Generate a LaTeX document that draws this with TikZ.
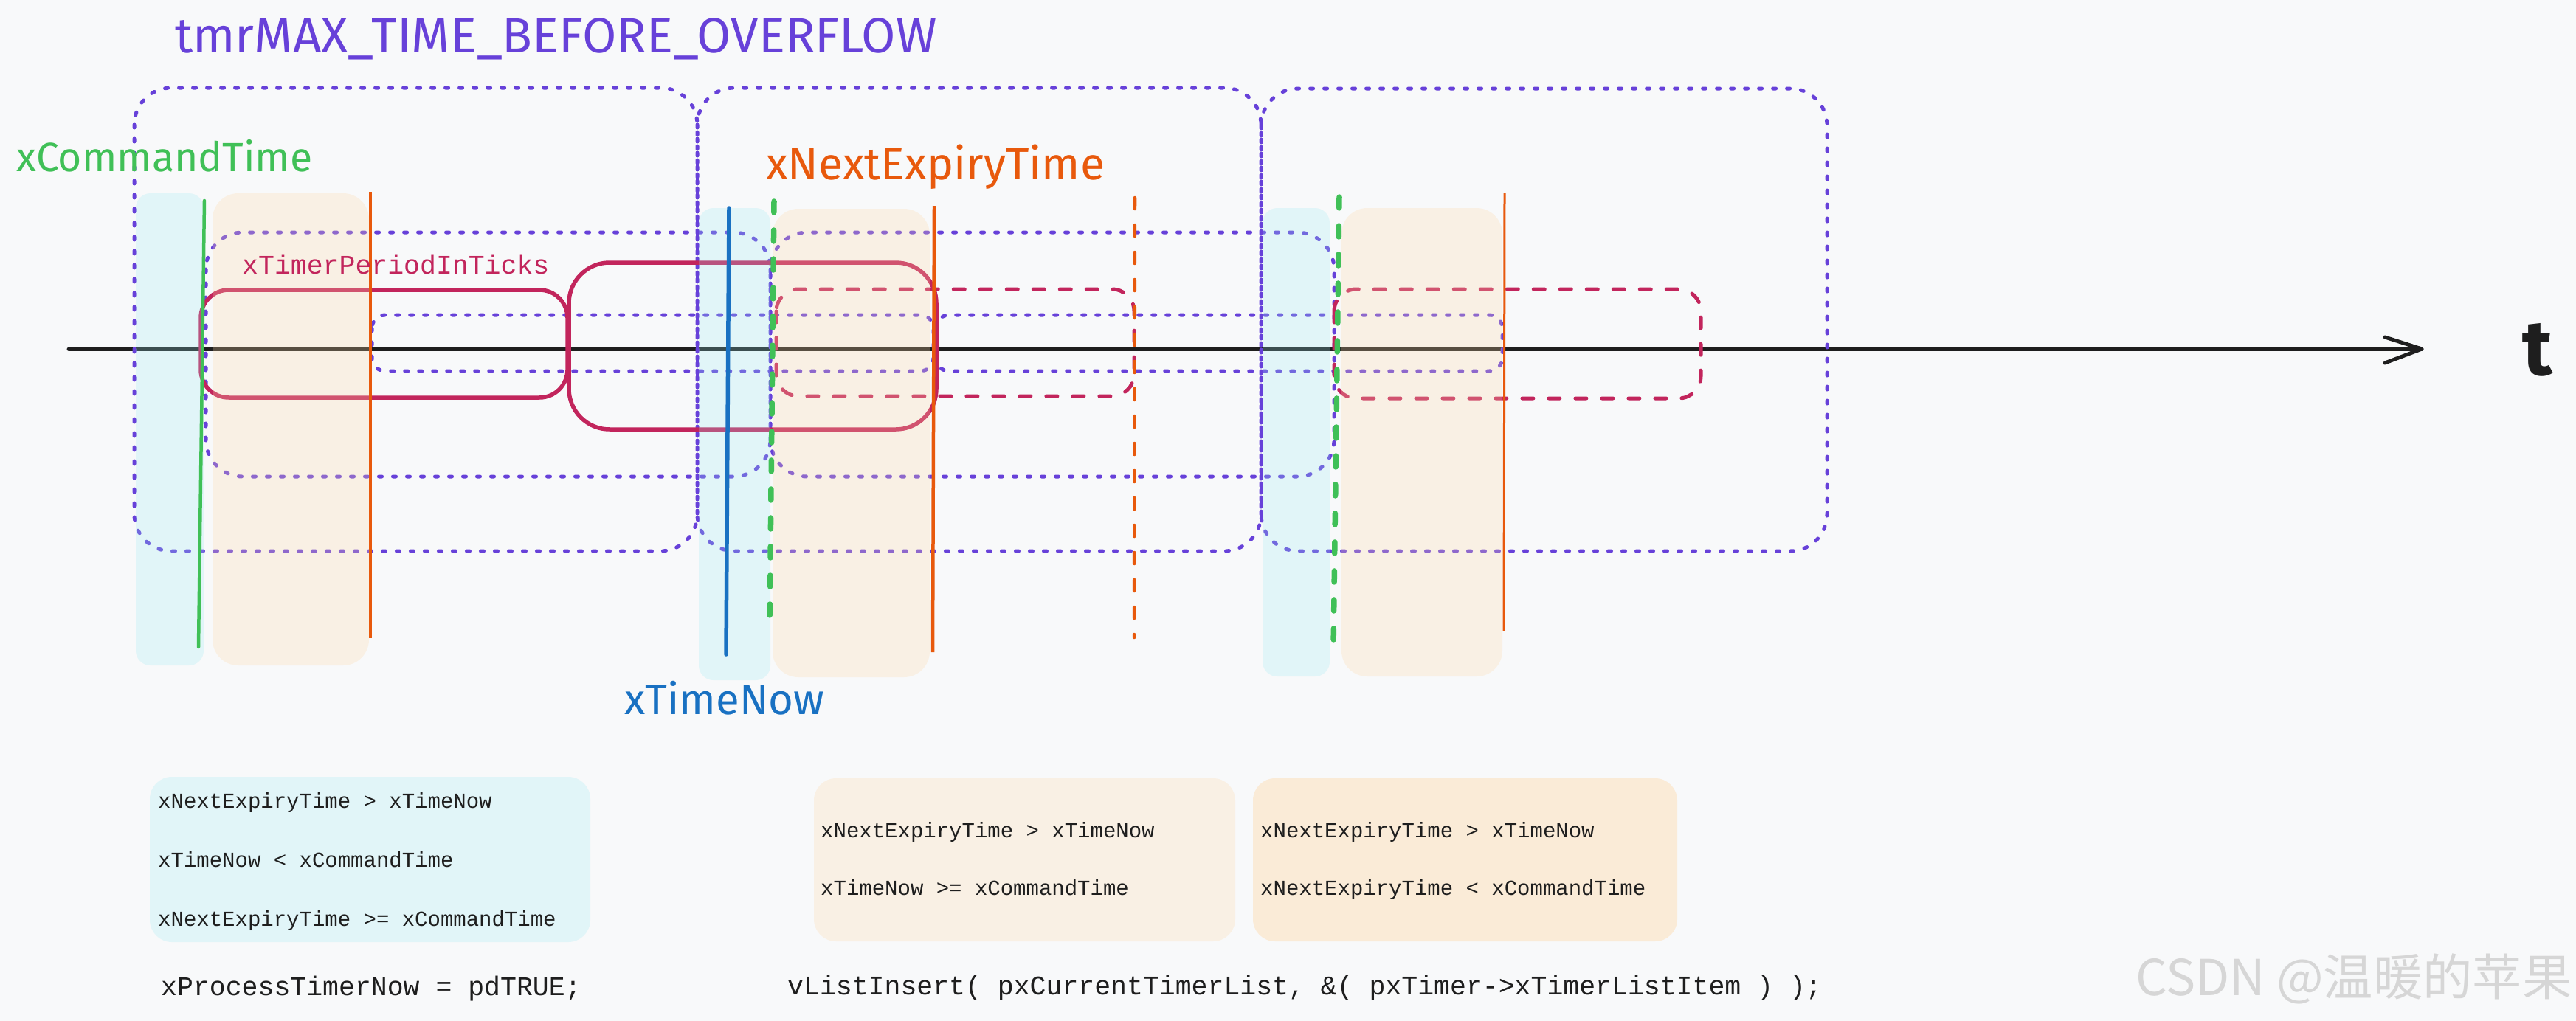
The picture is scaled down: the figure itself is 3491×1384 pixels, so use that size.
\documentclass[tikz,border=0pt]{standalone}
\usepackage{fontspec}
\usepackage{graphicx}
\newfontfamily\hwfont{Fira Sans}
\newfontfamily\codefont{Liberation Mono}
\newfontfamily\cjkfont{Noto Sans CJK SC}
\definecolor{bgc}{HTML}{F8F9FA}
\definecolor{vio}{HTML}{6741D9}
\definecolor{grn}{HTML}{40C057}
\definecolor{org}{HTML}{E8590C}
\definecolor{blu}{HTML}{1971C2}
\definecolor{crim}{HTML}{C2255C}
\definecolor{ink}{HTML}{1E1E1E}
\definecolor{cyanf}{HTML}{99E9F2}
\definecolor{peachf}{HTML}{FFD8A8}
\definecolor{wm}{HTML}{D6D6D6}
\begin{document}
\begin{tikzpicture}[x=1pt,y=-1pt,
  dotbox/.style={draw=vio, line width=5pt, dash pattern=on 4pt off 15pt, line cap=round},
  bigbox/.style={dotbox, rounded corners=50pt},
  midbox/.style={dotbox, rounded corners=50pt},
  smallbox/.style={dotbox, rounded corners=18pt},
  solidcrim/.style={draw=crim, line width=5.5pt},
  dashcrim/.style={draw=crim, line width=5pt, dash pattern=on 15pt off 21pt, line cap=round, rounded corners=30pt},
  cyanband/.style={fill=cyanf, fill opacity=0.24, rounded corners=20pt},
  peachband/.style={fill=peachf, fill opacity=0.26, rounded corners=35pt},
  axisline/.style={draw=ink, line width=5pt, line cap=round, line join=round},
  gdash/.style={draw=grn, line width=7.5pt, dash pattern=on 15pt off 24pt, line cap=round},
  odash/.style={draw=org, line width=4.5pt, dash pattern=on 15pt off 22pt, line cap=round},
  hwlabel/.style={anchor=base west, inner sep=0pt},
  codetxt/.style={anchor=base west, inner sep=0pt, text=ink, font=\codefont\fontsize{29}{34}\selectfont},
  bigcode/.style={anchor=base west, inner sep=0pt, text=ink, font=\codefont\fontsize{36.5}{42}\selectfont},
  condbox/.style={rounded corners=30pt}
]
% background and bounds
\fill[bgc] (0,0) rectangle (3491,1384);
\useasboundingbox (0,0) rectangle (3491,1384);

% time axis
\coordinate (axS) at (93,473);
\coordinate (axE) at (3282,473);
\draw[axisline] (axS) -- (axE);
\draw[axisline] ([shift={(-50,-16)}]axE) -- (axE) -- ([shift={(-50,19)}]axE);

% big dotted overflow windows
\draw[bigbox] (182,119) rectangle (945,747);
\draw[bigbox] (945,119) rectangle (1709,747);
\draw[bigbox] (1709,120) rectangle (2476,747);
% medium dotted windows
\draw[midbox] (279,315) rectangle (1044,646);
\draw[midbox] (1044,315) rectangle (1808,646);
% small dotted windows
\draw[smallbox] (504,427) rectangle (1265,503);
\draw[smallbox] (1268,427) rectangle (2036,503);

% timer period boxes
\draw[solidcrim, rounded corners=38pt] (272,393) rectangle (769,539);
\draw[solidcrim, rounded corners=55pt] (771,356) rectangle (1269,582);
\draw[dashcrim] (1052,392) rectangle (1537,537);
\draw[dashcrim] (1808,392) rectangle (2305,540);

% coloured bands
\fill[cyanband] (184,262) rectangle (276,902);
\fill[cyanband] (947,282) rectangle (1044,922);
\fill[cyanband] (1711,282) rectangle (1802,917);
\fill[peachband] (288,262) rectangle (500,902);
\fill[peachband] (1047,283) rectangle (1260,918);
\fill[peachband] (1818,282) rectangle (2036,917);

% vertical markers
\coordinate (g1t) at (277,272); \coordinate (g1b) at (269,877);
\draw[draw=grn, line width=4.5pt, line cap=round] (g1t) -- (g1b);
\coordinate (o1t) at (502,260); \coordinate (o1b) at (502,865);
\draw[draw=org, line width=3.5pt] (o1t) -- (o1b);
\coordinate (blt) at (988,282); \coordinate (blb) at (984,887);
\draw[draw=blu, line width=5.5pt, line cap=round] (blt) -- (blb);
\coordinate (g2t) at (1049,273); \coordinate (g2b) at (1043,855);
\draw[gdash] (g2t) -- (g2b);
\coordinate (o2t) at (1266,279); \coordinate (o2b) at (1264,884);
\draw[draw=org, line width=4.5pt] (o2t) -- (o2b);
\coordinate (odt) at (1538,268); \coordinate (odb) at (1537,864);
\draw[odash] (odt) -- (odb);
\coordinate (g3t) at (1815,267); \coordinate (g3b) at (1807,879);
\draw[gdash] (g3t) -- (g3b);
\coordinate (o3t) at (2039,262); \coordinate (o3b) at (2038,855);
\draw[draw=org, line width=3pt] (o3t) -- (o3b);

% labels
\node[hwlabel, text=vio] (title) at (237,71) {\resizebox{1032pt}{!}{\hwfont tmrMAX\_TIME\_BEFORE\_OVERFLOW}};
\node[hwlabel, text=grn] (cmdt) at (22,232) {\resizebox{401pt}{!}{\hwfont xCommandTime}};
\node[hwlabel, text=org] (nxt) at (1038,243) {\resizebox{459pt}{!}{\hwfont xNextExpiryTime}};
\node[hwlabel, text=blu] (now) at (846,968) {\resizebox{271pt}{!}{\hwfont xTimeNow}};
\node[hwlabel, text=crim, font=\codefont\fontsize{36.5}{42}\selectfont] (per) at (328,371) {xTimerPeriodInTicks};
\node[hwlabel, text=ink] (tlab) at (3418,508) {\resizebox{!}{70pt}{\hwfont\bfseries t}};

% condition boxes
\fill[condbox, fill=cyanf, fill opacity=0.24] (203,1053) rectangle (800,1277);
\fill[condbox, fill=peachf, fill opacity=0.26] (1103,1055) rectangle (1674,1276);
\fill[condbox, fill=peachf, fill opacity=0.42] (1698,1055) rectangle (2273,1276);

\node[codetxt] (c1a) at (214,1095) {xNextExpiryTime > xTimeNow};
\node[codetxt] (c1b) at (214,1175) {xTimeNow < xCommandTime};
\node[codetxt] (c1c) at (214,1255) {xNextExpiryTime >= xCommandTime};
\node[codetxt] (c2a) at (1112,1135) {xNextExpiryTime > xTimeNow};
\node[codetxt] (c2b) at (1112,1213) {xTimeNow >= xCommandTime};
\node[codetxt] (c3a) at (1708,1135) {xNextExpiryTime > xTimeNow};
\node[codetxt] (c3b) at (1708,1213) {xNextExpiryTime < xCommandTime};

\node[bigcode] (proc) at (218,1349) {xProcessTimerNow = pdTRUE;};
\node[bigcode] (ins) at (1067,1348) {vListInsert( pxCurrentTimerList, \&( pxTimer->xTimerListItem ) );};

% watermark
\node[hwlabel, text=wm] (wmk) at (2894,1349) {\resizebox{591pt}{!}{\cjkfont CSDN @温暖的苹果}};
\end{tikzpicture}
\end{document}
